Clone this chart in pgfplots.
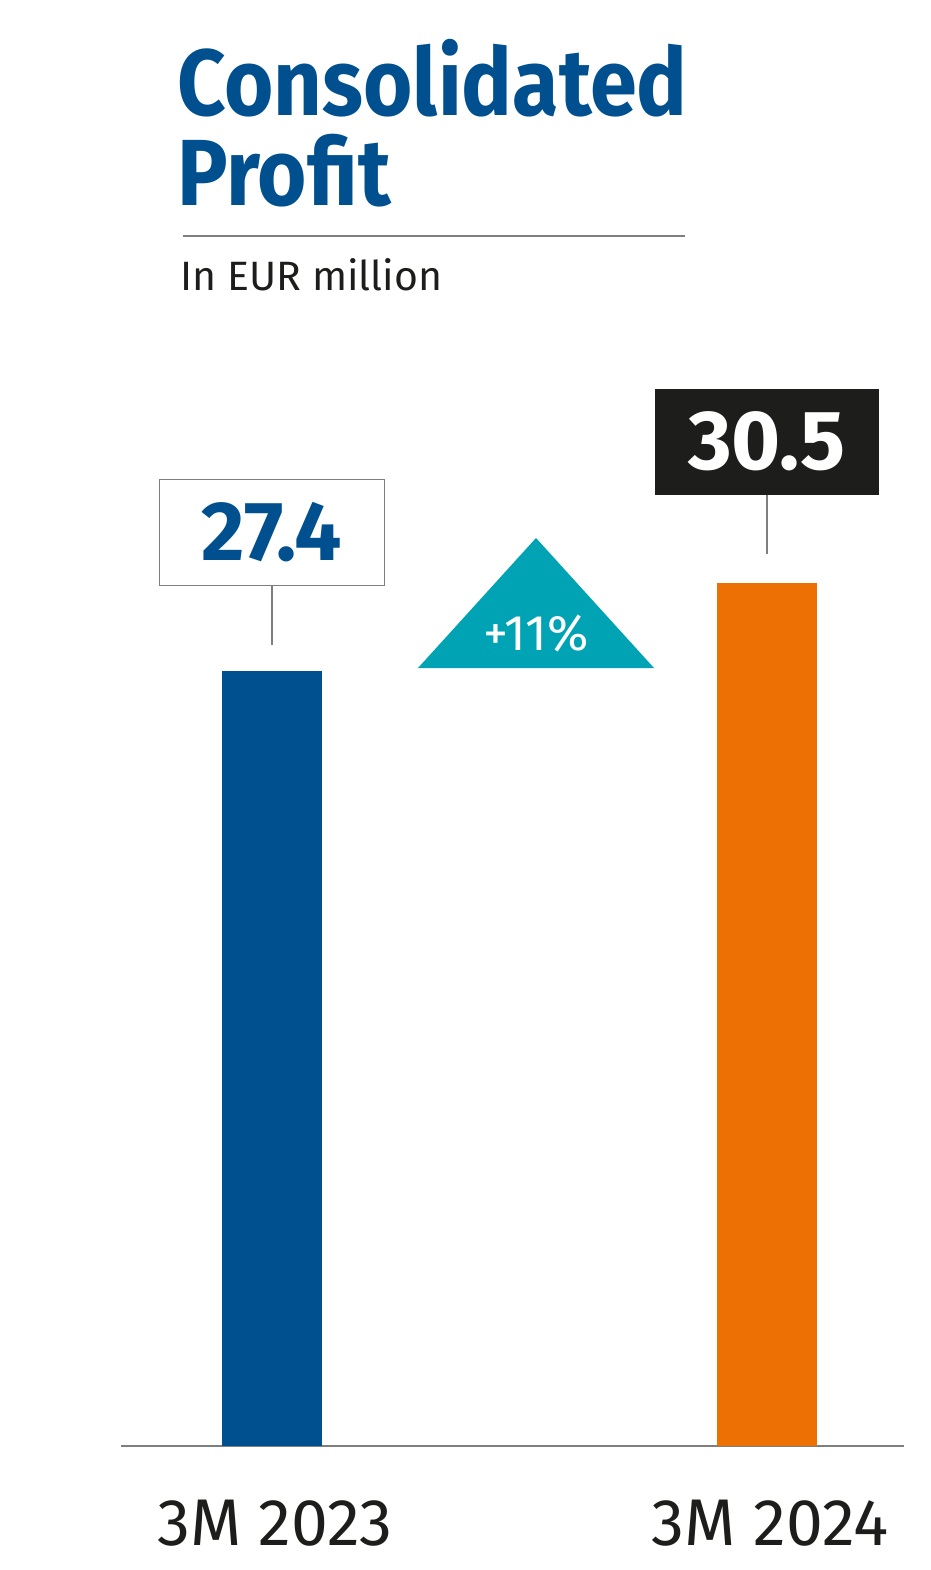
\documentclass[border=0pt]{standalone}
\usepackage{fontspec}
\setmainfont{Fira Sans}[FakeStretch=0.9]
\newfontfamily\plainfs{Fira Sans}
\usepackage{pgfplots}
\pgfplotsset{compat=1.18}

\definecolor{kblue}{HTML}{00508F}
\definecolor{korange}{HTML}{EC7004}
\definecolor{kteal}{HTML}{00A3B4}
\definecolor{kdark}{HTML}{1D1D1B}
\definecolor{kline}{HTML}{7F7F7F}

\begin{document}
\begin{tikzpicture}
  \begin{axis}[
      at={(60.5bp,-723bp)}, anchor=south west,
      scale only axis,
      width=391.5bp, height=565.7bp,
      xmin=-0.305, xmax=1.277,
      ymin=0, ymax=40,
      clip=false,
      hide y axis,
      axis x line*=bottom,
      x axis line style={draw=kline, line width=1bp, -},
      xtick={0,1},
      xticklabels={3M 2023, 3M 2024},
      major tick length=0pt,
      xticklabel style={anchor=base, yshift=-49.5bp, xshift=1.5bp, text=kdark,
        font=\plainfs\fontsize{33bp}{33bp}\selectfont},
    ]
    \addplot[ybar, bar width=50bp, bar shift=0pt, fill=kblue, draw=none]
      coordinates {(0,27.4)};
    \addplot[ybar, bar width=50bp, bar shift=0pt, fill=korange, draw=none]
      coordinates {(1,30.5)};

    % value call-outs
    \draw[kline, line width=0.6bp]
      ([yshift=13bp]axis cs:0,27.4) -- ([yshift=42.5bp]axis cs:0,27.4)
      node[anchor=south, draw=kline, line width=0.6bp, fill=white,
        minimum width=112.5bp, minimum height=53bp, inner sep=0pt,
        text=kblue, font=\plainfs\fontsize{42bp}{42bp}\selectfont\bfseries] {27.4};
    \draw[kline, line width=0.6bp]
      ([yshift=14.5bp]axis cs:1,30.5) -- ([yshift=44bp]axis cs:1,30.5)
      node[anchor=south, fill=kdark,
        minimum width=112bp, minimum height=53bp, inner sep=0pt,
        text=white, font=\plainfs\fontsize{42bp}{42bp}\selectfont\bfseries] {30.5};
  \end{axis}

  \begin{scope}[x=0.5bp, y=-0.5bp]
    \path (0,0) rectangle (930,1570);
    \node[anchor=base west, inner sep=0pt, text=kblue,
      font=\fontsize{47bp}{47bp}\selectfont\bfseries] at (177,115) {Consolidated};
    \node[anchor=base west, inner sep=0pt, text=kblue,
      font=\fontsize{47bp}{47bp}\selectfont\bfseries] at (177,205) {Profit};
    \draw[kline, line width=1bp] (183,236) -- (685,236);
    \node[anchor=base west, inner sep=0pt, text=kdark,
      font=\plainfs\fontsize{20.5bp}{20.5bp}\selectfont] at (180,290) {In EUR million};
    \fill[kteal] (418,668) -- (536,538) -- (654,668) -- cycle;
    \node[anchor=base, inner sep=0pt, text=white,
      font=\plainfs\fontsize{25bp}{25bp}\selectfont] at (536,650) {+11\%};
  \end{scope}
\end{tikzpicture}
\end{document}
